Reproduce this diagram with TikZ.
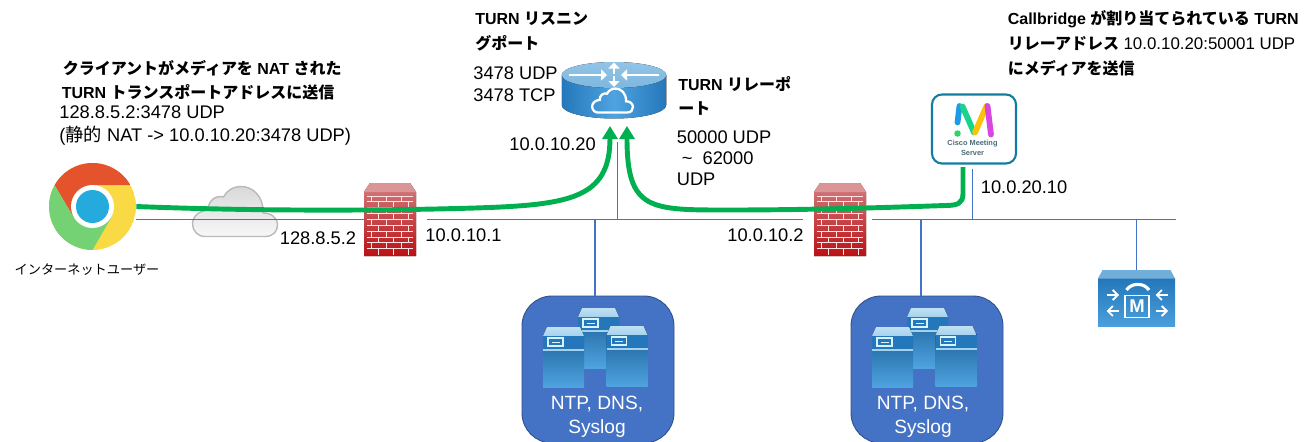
\documentclass[tikz,border=0pt]{standalone}
\usepackage{fontspec}
\setmainfont{Liberation Sans}
\newfontfamily\cjk{Noto Sans CJK JP}
\usetikzlibrary{arrows.meta}
\newcommand{\jp}[1]{{\cjk #1}}
\newcommand{\cloudoutline}{(-.6,-.5) -- (.6,-.5) .. controls (.78,-.5) and (.85,-.38) .. (.85,-.27) .. controls (.85,-.12) and (.72,-.03) .. (.56,-.03) .. controls (.58,.3) and (.35,.5) .. (.13,.5) .. controls (-.03,.5) and (-.17,.42) .. (-.23,.29) .. controls (-.38,.33) and (-.55,.22) .. (-.53,.03) .. controls (-.72,.02) and (-.85,-.1) .. (-.85,-.25) .. controls (-.85,-.38) and (-.75,-.5) .. (-.6,-.5) -- cycle}
\definecolor{lanblue}{HTML}{4472C4}
\definecolor{flowgreen}{HTML}{00B050}
\definecolor{ciscoblue}{HTML}{2477BA}
\definecolor{ciscolight}{HTML}{4FA3DF}
\definecolor{ciscocap}{HTML}{A5D2EE}
\definecolor{brickdark}{HTML}{AE1318}
\tikzset{
    boldnote/.style={anchor=west, inner sep=0, font=\fontsize{9.1}{11}\selectfont\bfseries},
    addrnote/.style={anchor=west, inner sep=0, text height=1em, text depth=.1em, font=\fontsize{10.4}{13}\selectfont},
    lanline/.style={lanblue, line width=.85pt},
    mediaflow/.style={flowgreen, line width=2.8pt, -{Triangle[length=.26cm,width=.3cm]}},
    ntpbox/.style={draw=lanblue!70!black, line width=.5pt, fill=lanblue, rounded corners=.6cm, minimum width=3.04cm, minimum height=2.94cm},
    ntptext/.style={inner sep=0, white, font=\fontsize{10.9}{13}\selectfont},
    chromeicon/.pic={
        \begin{scope}
            \clip (0,0) circle (.87);
            \fill[fill={rgb,255:red,249;green,218;blue,68}] (0,0) circle (.87);
            \fill[fill={rgb,255:red,228;green,83;blue,43}] (.76,.43) -- (0,.43) -- (-.375,-.22) -- (-.76,.43) -- (-.9,1) -- (.9,1) -- cycle;
            \fill[fill={rgb,255:red,116;green,210;blue,116}] (-.76,.43) -- (-.375,-.22) -- (.375,-.22) -- (0,-.87) -- (-1,-.9) -- (-1,.43) -- cycle;
        \end{scope}
        \fill[white] (0,0) circle (.43);
        \fill[fill={rgb,255:red,37;green,170;blue,221}] (0,0) circle (.33);
    },
    netcloud/.pic={
        \draw[gray!55, line width=.8pt, top color=gray!30, bottom color=gray!6] \cloudoutline;
    },
    brickwall/.pic={
        \fill[top color=brickdark!55!white, middle color=brickdark, bottom color=brickdark!85!red] (-.4,.73) -- (.4,.73) -- (.52,.55) -- (.52,-.73) -- (-.52,-.73) -- (-.52,.55) -- cycle;
        \fill[brickdark!45!white] (-.4,.73) -- (.4,.73) -- (.52,.55) -- (-.52,.55) -- cycle;
        \foreach \row in {0,...,9} {
            \pgfmathsetmacro{\rowy}{.47-.117*\row}
            \pgfmathsetmacro{\rowx}{mod(\row,2)*.15}
            \draw[white!90!red, line width=.5pt] (-.46,\rowy) -- (.46,\rowy);
            \foreach \brick in {-.3,0,.3} {
                \draw[white!90!red, line width=.5pt] (\brick+\rowx-.08,\rowy) -- (\brick+\rowx-.08,\rowy-.117);
            }
        }
    },
    turnrouter/.pic={
        \fill[left color=ciscoblue, right color=ciscoblue, middle color=ciscolight] (-1.045,.31) -- (-1.045,-.29) arc[start angle=180, end angle=360, x radius=1.045, y radius=.27] -- (1.045,.31) -- cycle;
        \fill[top color=ciscocap!85!ciscoblue, bottom color=ciscocap!70!ciscoblue] (0,.31) ellipse (1.045 and .26);
        \draw[white, line width=1.1pt, -{Triangle[length=.12cm,width=.22cm]}] (0,.33) -- (0,.56);
        \draw[white, line width=1.1pt, -{Triangle[length=.12cm,width=.22cm]}] (0,.29) -- (0,.07);
        \draw[white, line width=1.1pt, -{Triangle[length=.12cm,width=.22cm]}] (-.9,.31) -- (-.14,.31);
        \draw[white, line width=1.1pt, -{Triangle[length=.12cm,width=.22cm]}] (.9,.31) -- (.14,.31);
        \draw[white, line width=1.3pt, scale=.48, shift={(-.06,-.42)}] \cloudoutline;
    },
    servericon/.pic={
        \fill[top color=ciscocap!70!white, bottom color=ciscocap] (-.33,.6) -- (.33,.6) -- (.41,.42) -- (-.41,.42) -- cycle;
        \fill[top color=ciscoblue!85!black, bottom color=ciscolight] (-.41,.42) rectangle (.41,-.6);
        \fill[ciscoblue] (-.41,.42) rectangle (.41,.14);
        \draw[ciscocap, line width=.6pt] (-.41,.14) -- (.41,.14);
        \draw[white!85!cyan, line width=.7pt] (-.31,.38) rectangle (-.01,.22);
        \draw[white!85!cyan, line width=.5pt] (-.24,.3) -- (-.08,.3);
    },
    serverstack/.pic={
        \pic at (.01,2.06) {servericon};
        \pic at (-.69,1.68) {servericon};
        \pic at (.58,1.70) {servericon};
    },
    mcuicon/.pic={
        \fill[top color=ciscoblue, bottom color=ciscolight!90!ciscoblue] (-.77,.39) rectangle (.77,-.56);
        \fill[ciscocap!60!ciscoblue] (-.68,.56) -- (.68,.56) -- (.77,.39) -- (-.77,.39) -- cycle;
        \draw[white, line width=.9pt] (-.23,-.39) rectangle (.25,.05);
        \node (mculetter) at (.01,-.17) [white, inner sep=0, font=\fontsize{10.5}{12}\selectfont\bfseries] {M};
        \draw[white, line width=1.8pt] (-.2,.16) .. controls (-.1,.31) and (.15,.31) .. (.25,.16);
        \foreach \startx/\endx/\arry in {-.6/-.35/.06, .63/.38/.06, -.35/-.6/-.26, .38/.63/-.26} {
            \draw[white, line width=1.1pt, -{Straight Barb[length=.1cm,width=.2cm]}] (\startx,\arry) -- (\endx,\arry);
        }
    },
    csmlogo/.pic={
        \draw[line width=3.3pt, line cap=round, color={rgb,255:red,30;green,155;blue,232}] (-.29,.46) -- (-.33,.13);
        \draw[line width=3.3pt, line cap=round, color={rgb,255:red,25;green,212;blue,140}] (-.23,.45) -- (0,-.07);
        \draw[line width=3.3pt, line cap=round, color={rgb,255:red,255;green,193;blue,7}] (.02,-.07) -- (.25,.46);
        \draw[line width=3.3pt, line cap=round, color={rgb,255:red,217;green,70;blue,223}] (.27,.46) -- (.34,-.11);
        \fill[fill={rgb,255:red,40;green,215;blue,100}] (-.33,-.09) circle (.065);
        \node (csmnameone) at (-.03,-.30) [inner sep=0, text={rgb,255:red,74;green,106;blue,120}, font=\fontsize{4.2}{5}\selectfont\bfseries] {Cisco Meeting};
        \node (csmnametwo) at (-.03,-.47) [inner sep=0, text={rgb,255:red,74;green,106;blue,120}, font=\fontsize{4.2}{5}\selectfont\bfseries] {Server};
    },
}
\begin{document}
\begin{tikzpicture}
    \useasboundingbox (0,0) rectangle (26.2,8.82);
    % devices
    \node (chrome) at (1.85, 4.69) [circle, inner sep=0, minimum size=1.74cm] {};
    \pic at (chrome) {chromeicon};
    \pic at (4.70, 4.59) {netcloud};
    \node (fwone) at (7.8, 4.43) [inner sep=0, minimum width=1.04cm, minimum height=1.46cm] {};
    \pic at (fwone) {brickwall};
    \node (fwtwo) at (16.8, 4.43) [inner sep=0, minimum width=1.04cm, minimum height=1.46cm] {};
    \pic at (fwtwo) {brickwall};
    \node (router) at (12.28, 7.01) [inner sep=0, minimum width=2.09cm, minimum height=1.14cm] {};
    \pic at (router) {turnrouter};
    \node (csm) at (19.48, 6.24) [draw={rgb,255:red,19;green,124;blue,163}, fill=white, line width=1.2pt, rounded corners=.2cm, inner sep=0, minimum width=1.68cm, minimum height=1.38cm] {};
    \pic at (csm) {csmlogo};
    \node (mcu) at (22.73, 2.86) [inner sep=0, minimum width=1.54cm, minimum height=1.12cm] {};
    \pic at (mcu) {mcuicon};
    \node (ntpone) at (11.96, 1.43) [ntpbox] {};
    \pic at (11.96, 0) {serverstack};
    \node (ntponeA) at (11.94, .74) [ntptext] {NTP, DNS,};
    \node (ntponeB) at (11.94, .24) [ntptext] {Syslog};
    \node (ntptwo) at (18.54, 1.43) [ntpbox] {};
    \pic at (18.54, 0) {serverstack};
    \node (ntptwoA) at (18.46, .74) [ntptext] {NTP, DNS,};
    \node (ntptwoB) at (18.46, .24) [ntptext] {Syslog};
    % lan
    \coordinate (busa) at (8.54, 4.43);
    \coordinate (busb) at (16.06, 4.43);
    \coordinate (busc) at (17.44, 4.43);
    \coordinate (busd) at (23.52, 4.43);
    \coordinate (routertap) at (12.35, 5.98);
    \coordinate (csmtap) at (19.45, 5.44);
    \coordinate (ntponetap) at (11.9, 2.9);
    \coordinate (ntptwotap) at (18.42, 2.9);
    \draw[lanline] (chrome.east |- fwone.west) -- (fwone.west);
    \draw[lanline] (busa) -- (busb);
    \draw[lanline] (busc) -- (busd);
    \draw[lanline] (routertap) -- (routertap |- busa);
    \draw[lanline] (ntponetap) -- (ntponetap |- busa);
    \draw[lanline] (ntptwotap) -- (ntptwotap |- busa);
    \draw[lanline] (csmtap) -- (csmtap |- busa);
    \draw[lanline] (mcu.north) -- (mcu.north |- busd);
    % media
    \coordinate (rxleft) at (12.2, 6.3);
    \coordinate (rxright) at (12.54, 6.3);
    \coordinate (csmout) at (19.26, 5.48);
    \draw[mediaflow] (chrome.east) .. controls (5, 4.6) and (7.5, 4.6) .. (9.5, 4.66) .. controls (11.4, 4.72) and (12.2, 4.85) .. (rxleft);
    \draw[mediaflow] (csmout) -- (19.26, 4.95) .. controls (19.26, 4.75) and (19.15, 4.71) .. (18.9, 4.71) .. controls (17.5, 4.66) and (16, 4.62) .. (14.6, 4.62) .. controls (13, 4.62) and (12.54, 4.6) .. (rxright);
    % labels
    \node (clientA) at (1.25, 7.46) [boldnote] {\jp{クライアントがメディアを} NAT \jp{された}};
    \node (clientB) at (1.23, 6.97) [boldnote] {TURN \jp{トランスポートアドレスに送信}};
    \node (clientC) at (1.18, 6.61) [addrnote] {128.8.5.2:3478 UDP};
    \node (clientD) at (1.18, 6.14) [addrnote] {(\jp{静的} NAT -> 10.0.10.20:3478 UDP)};
    \node (chromename) at (1.74, 3.42) [inner sep=0, font=\fontsize{7.5}{9}\selectfont] {\jp{インターネットユーザー}};
    \node (natip) at (5.59, 4.09) [addrnote] {128.8.5.2};
    \node (fwoneip) at (8.5, 4.15) [addrnote] {10.0.10.1};
    \node (routerip) at (10.18, 5.96) [addrnote] {10.0.10.20};
    \node (fwtwoip) at (14.54, 4.15) [addrnote] {10.0.10.2};
    \node (listenA) at (9.5, 8.44) [boldnote] {TURN \jp{リスニン}};
    \node (listenB) at (9.5, 7.96) [boldnote] {\jp{グポート}};
    \node (listenC) at (9.46, 7.38) [addrnote] {3478 UDP};
    \node (listenD) at (9.46, 6.94) [addrnote] {3478 TCP};
    \node (relayA) at (13.56, 7.14) [boldnote] {TURN \jp{リレーポ}};
    \node (relayB) at (13.56, 6.64) [boldnote] {\jp{ート}};
    \node (relayC) at (13.53, 6.1) [addrnote] {50000 UDP};
    \node (relayD) at (13.63, 5.68) [addrnote] {\textasciitilde\ \ 62000};
    \node (relayE) at (13.53, 5.26) [addrnote] {UDP};
    \node (csmip) at (19.61, 5.11) [addrnote] {10.0.20.10};
    \node (bridgeA) at (20.15, 8.44) [boldnote] {Callbridge \jp{が割り当てられている} TURN};
    \node (bridgeB) at (20.15, 7.95) [boldnote] {\jp{リレーアドレス} {\mdseries\fontsize{9.6}{11}\selectfont 10.0.10.20:50001 UDP}};
    \node (bridgeC) at (20.15, 7.46) [boldnote] {\jp{にメディアを送信}};
\end{tikzpicture}
\end{document}
